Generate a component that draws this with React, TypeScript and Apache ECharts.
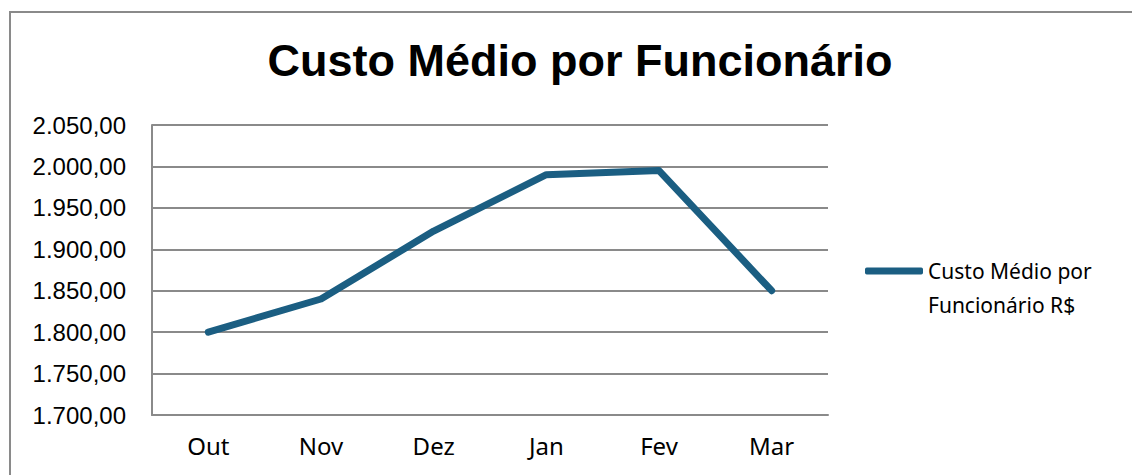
import React, { useEffect, useRef } from "react";
import * as echarts from "echarts";

const categories = ["Out", "Nov", "Dez", "Jan", "Fev", "Mar"];
const custoMedio = [1800, 1840, 1922, 1990, 1995, 1850];
const seriesName = "Custo Médio por Funcionário R$";
const titleText = "Custo Médio por Funcionário";

function fmt(v: number): string {
  const fixed = v.toFixed(2);
  const [intPart, dec] = fixed.split(".");
  const withDots = intPart.replace(/\B(?=(\d{3})+(?!\d))/g, ".");
  return withDots + "," + dec;
}

export default function App() {
  const ref = useRef<HTMLDivElement>(null);
  useEffect(() => {
    document.body.style.margin = "0";
    const chart = echarts.init(ref.current!, undefined, { renderer: "svg" });
    chart.setOption({
      animation: false,
      backgroundColor: "#ffffff",
      title: {
        text: titleText,
        left: 575,
        textAlign: "center",
        top: 33,
        textStyle: {
          fontFamily: "Liberation Sans",
          fontWeight: "bold",
          fontSize: 45,
          color: "#000000",
        },
      },
      grid: { left: 152, right: 304, top: 125, bottom: 60, containLabel: false },
      legend: {
        data: [seriesName],
        orient: "vertical",
        left: 860,
        top: 215,
        icon: "roundRect",
        itemWidth: 58,
        itemHeight: 7,
        itemGap: 0,
        formatter: () => "\nCusto Médio por\nFuncionário R$",
        textStyle: {
          fontFamily: "Noto Sans",
          fontSize: 21,
          color: "#000000",
          lineHeight: 34,
        },
      },
      xAxis: {
        type: "category",
        data: categories,
        boundaryGap: true,
        axisLine: { show: true, lineStyle: { color: "#8a8a8a", width: 2 } },
        axisTick: { show: false },
        axisLabel: {
          fontFamily: "Noto Sans",
          fontSize: 24,
          color: "#000000",
          margin: 18,
        },
      },
      yAxis: {
        type: "value",
        min: 1700,
        max: 2050,
        interval: 50,
        axisLine: { show: true, lineStyle: { color: "#8a8a8a", width: 2 } },
        axisTick: { show: false },
        splitLine: { show: true, lineStyle: { color: "#8a8a8a", width: 2 } },
        axisLabel: {
          fontFamily: "Liberation Sans",
          fontSize: 24,
          color: "#000000",
          margin: 26,
          formatter: (v: number) => fmt(v),
        },
      },
      series: [
        {
          name: seriesName,
          type: "line",
          data: custoMedio,
          showSymbol: false,
          symbol: "none",
          itemStyle: { color: "#1b5e82" },
          lineStyle: { color: "#1b5e82", width: 7, cap: "round", join: "round" },
        },
      ],
      graphic: [
        {
          type: "rect",
          shape: { x: 10, y: 12, width: 1140, height: 480 },
          style: { fill: "none", stroke: "#8a8a8a", lineWidth: 2 },
          silent: true,
        },
      ],
    });
    return () => chart.dispose();
  }, []);
  return (
    <div
      ref={ref}
      style={{ position: "absolute", left: 0, top: 0, width: 1132, height: 475 }}
    />
  );
}
